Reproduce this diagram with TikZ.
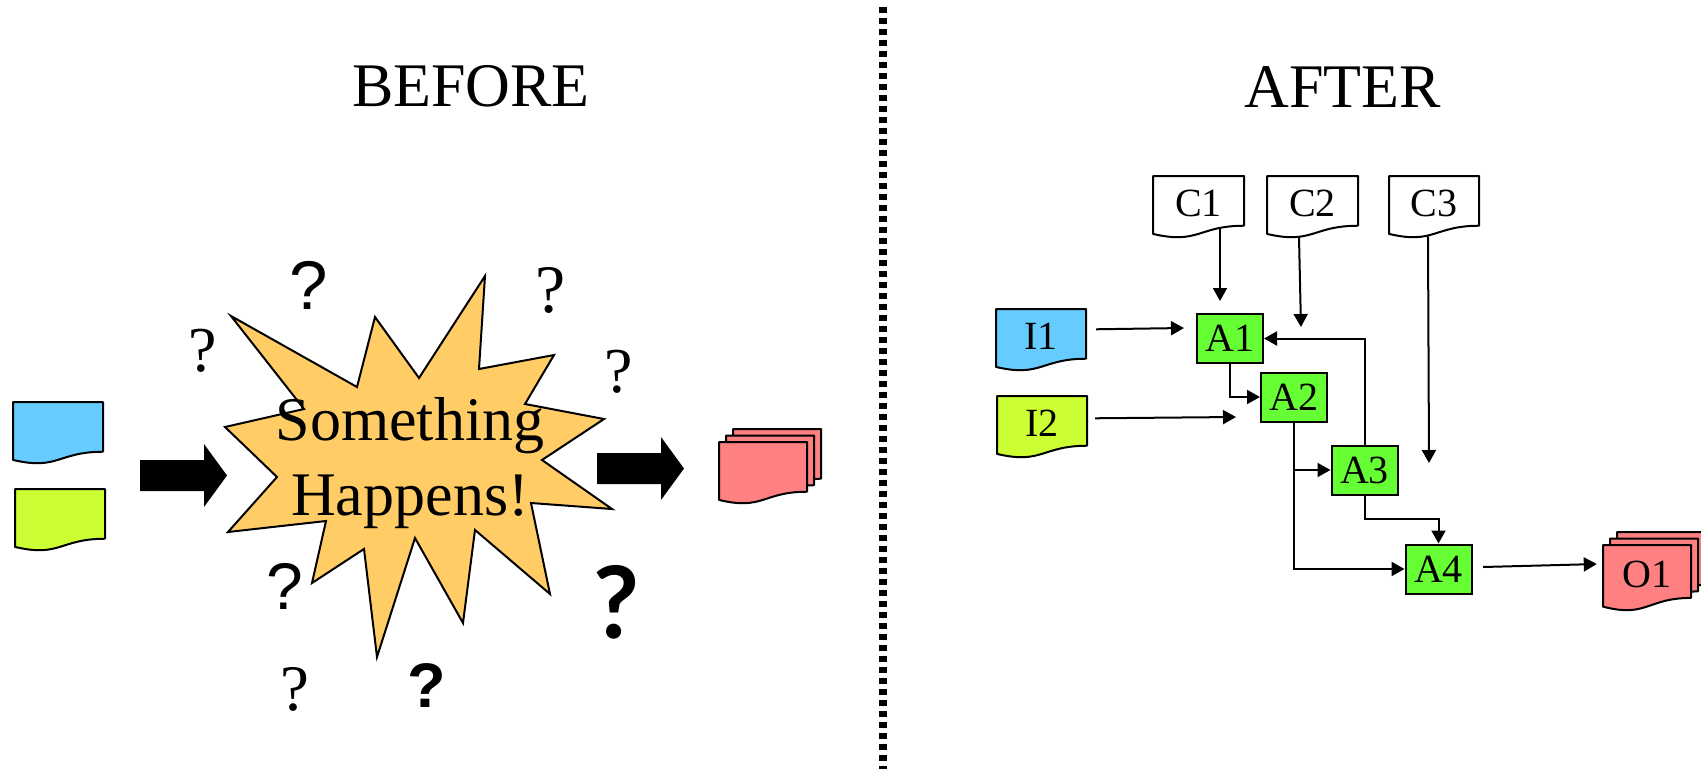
\documentclass[tikz,border=0pt]{standalone}
\usepackage{fontspec}
\setmainfont{Liberation Serif}
\newfontfamily\qsans{Liberation Sans}
\newfontfamily\qround{Lato}
\usetikzlibrary{calc}
\usetikzlibrary{arrows.meta}
\definecolor{dBlue}{HTML}{66CCFF}
\definecolor{dLime}{HTML}{CCFF33}
\definecolor{dPink}{HTML}{FF8080}
\definecolor{dGreen}{HTML}{66FF33}
\definecolor{dOrange}{HTML}{FFCC66}
\tikzset{
    page/.style={
            draw,
            line width=2pt, % outline of a document
            line join=round
        },
    pagetext/.style={
            inner sep=0pt,
            font=\fontsize{40}{48}\selectfont
        },
    act/.style={
            draw,
            fill=dGreen,
            line width=2pt,
            inner sep=0pt,
            minimum width=66pt,
            minimum height=49pt,
            font=\fontsize{40}{48}\selectfont
        },
    flow/.style={
            line width=2pt,
            -{Triangle[length=13pt,width=14pt]}
        },
}
\tikzset{
    burst/.style={
            draw,
            fill=dOrange,
            line width=2pt
        },
    divider/.style={
            line width=8pt,
            dash pattern=on 6pt off 5pt
        },
    title/.style={
            inner sep=0pt,
            font=\fontsize{62}{75}\selectfont
        },
    qmark/.style 2 args={
            inner sep=0pt,
            font={#1\fontsize{#2}{#2}\selectfont}
        },
}
% document page: name, x, y (top left), width, height, fill, text
\newcommand{\docpage}[7]{%
    \draw[page, fill=#6] (#2,#3) -- ++(#4,0) -- ++(0,0.802*#5)
    .. controls +(-0.5*#4,0) and +(0.5*#4,0.1735*#5) .. (#2,#3+0.934*#5) -- cycle;
    \node[pagetext, minimum width={#4pt}, minimum height={0.8*#5pt}]
    (#1) at (#2+0.5*#4,#3+0.44*#5) {#7};
}
% three pages stacked
\newcommand{\docstack}[7]{%
    \docpage{#1back}{#2+14}{#3-13}{#4}{#5}{#6}{}
    \docpage{#1mid}{#2+7}{#3-6.5}{#4}{#5}{#6}{}
    \docpage{#1}{#2}{#3}{#4}{#5}{#6}{#7}
}
% block arrow: left end, centre height
\newcommand{\blockarrow}[2]{%
    \fill (#1,#2-15.5) -- ++(64,0) -- ++(0,-16) -- ++(23,31.5)
    -- ++(-23,31.5) -- ++(0,-16) -- ++(-64,0) -- cycle;
}

\begin{document}
\begin{tikzpicture}[x=1pt, y=-1pt]
    \useasboundingbox (0,0) rectangle (1701,769);
    % titles and divider
    \node[title] (before) at (471,86.5) {BEFORE};
    \node[title] (after) at (1342.5,87) {AFTER};
    \draw[divider] (883,7) -- (883,769);
    % before: inputs, burst, output
    \docpage{inBlue}{13}{402}{90}{62}{dBlue}{}
    \docpage{inLime}{15}{489}{90}{62}{dLime}{}
    \blockarrow{140}{475.5}
    \draw[burst] (231,316) -- (357,387) -- (375,317) -- (419,378)
    -- (485,276) -- (479,369) -- (554,355) -- (525,404)
    -- (604,419) -- (542,460) -- (612,509) -- (531,503)
    -- (550,594) -- (475,530) -- (463,623) -- (415,538)
    -- (377,657) -- (364,549) -- (312,583) -- (326,521)
    -- (228,532) -- (277,477) -- (225,427) -- (304,409) -- cycle;
    \node[title, align=center] (burst) at (410,463) {Something\\Happens!};
    \blockarrow{597}{468.5}
    \docstack{outPink}{719}{442}{88}{62}{dPink}{}
    % question marks
    \node[qmark={\qsans}{69}] (q1) at (309,285) {?};
    \node[qmark={}{68}] (q2) at (551,290) {?};
    \node[qmark={}{64}] (q3) at (203,350.5) {?};
    \node[qmark={}{64}] (q4) at (619,371.5) {?};
    \node[qmark={\qsans}{66}] (q5) at (285,586) {?};
    \node[qmark={\qround\bfseries}{100}] (q6) at (616.5,602) {?};
    \node[qmark={}{65}] (q7) at (295,689) {?};
    \node[qmark={\qsans\bfseries}{63}] (q8) at (426.5,685) {?};
    % after: controls and inputs
    \docpage{C1}{1153}{176}{91}{62}{white}{C1}
    \docpage{C2}{1267}{176}{91}{62}{white}{C2}
    \docpage{C3}{1389}{176}{90}{62}{white}{C3}
    \docpage{I1}{996}{309}{90}{62}{dBlue}{I1}
    \docpage{I2}{997}{396}{90}{62}{dLime}{I2}
    \docstack{O1}{1603}{545}{88}{66}{dPink}{O1}
    % activities
    \node[act] (A1) at (1230,338.5) {A1};
    \node[act] (A2) at (1294,397) {A2};
    \node[act] (A3) at (1364.5,470) {A3};
    \node[act] (A4) at (1438.5,569) {A4};
    \coordinate (c2end) at (1301,327);
    \coordinate (c3end) at (1429,463);
    \coordinate (i2end) at (1236,417);
    % connectors
    \draw[flow] ($(C1.south)+(21.5,0)$) -- ($(A1.north)+(-10,-12)$);
    \draw[flow] ($(C2.south)+(-13.5,9)$) -- (c2end);
    \draw[flow] ($(C3.south)+(-6,8)$) -- (c3end);
    \draw[flow] ($(I1.east)+(10,-7)$) -- ($(A1.west)+(-12,-10.5)$);
    \draw[flow] ($(I2.east)+(8,-5)$) -- (i2end);
    \draw[flow] (A1.south) |- (A2.west);
    \draw[flow] (A3.north) |- (A1.east);
    \draw[flow] (A2.south) |- (A3.west);
    \draw[flow] (A2.south) |- (A4.west);
    \draw[flow] (A3.south) |- ($(A4.north)+(0,-25)$) -- (A4.north);
    \draw[flow] ($(A4.east)+(10.5,-2)$) -- ($(O1.west)+(-6,-10)$);
\end{tikzpicture}
\end{document}
